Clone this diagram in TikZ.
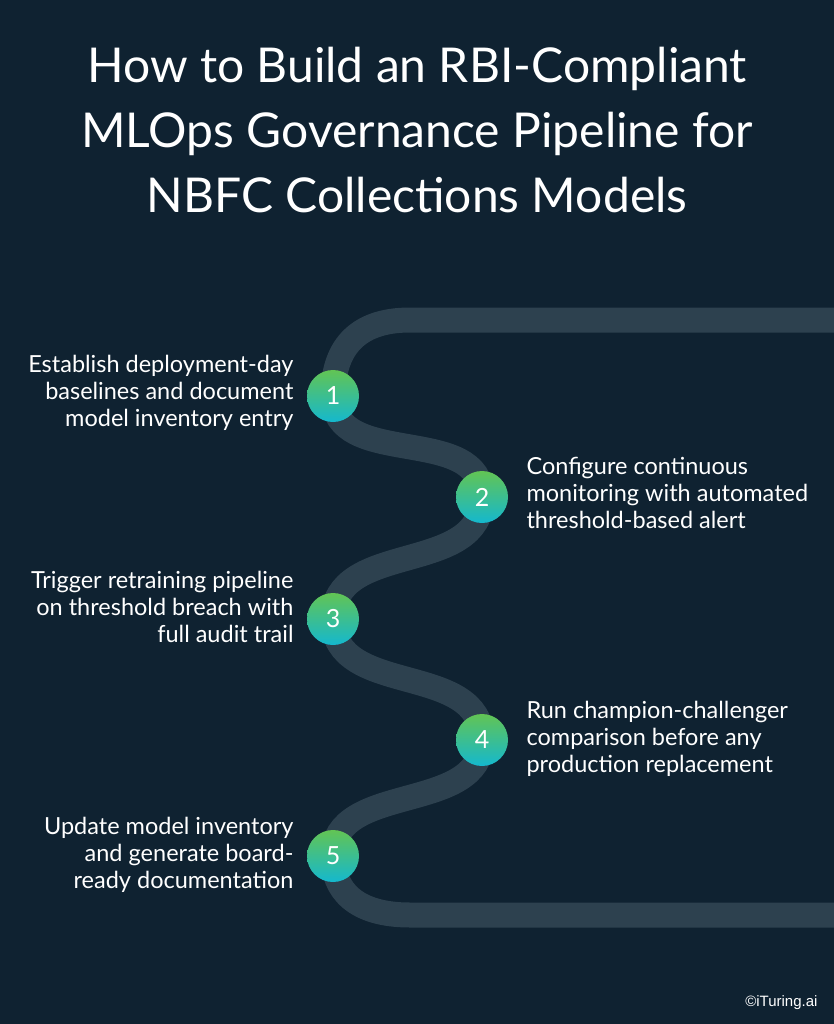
\documentclass[tikz,border=0pt]{standalone}
\usepackage{fontspec}
\setmainfont{Lato}
\newfontfamily\creditfont{Liberation Sans}
\definecolor{bgnavy}{RGB}{15,34,49}
\definecolor{roadgray}{RGB}{45,65,79}
\definecolor{stepgreen}{RGB}{98,196,84}
\definecolor{stepteal}{RGB}{20,184,206}
\usetikzlibrary{backgrounds}

\begin{document}
\begin{tikzpicture}[x=1pt,y=-1pt,
  stepdot/.style={circle,minimum size=52pt,inner sep=0pt,top color=stepgreen,
    bottom color=stepteal,text=white,font=\fontsize{25}{25}\selectfont},
  lefttxt/.style={anchor=east,align=right,text=white,
    font=\fontsize{23.5}{27}\selectfont},
  righttxt/.style={anchor=west,align=left,text=white,
    font=\fontsize{23.5}{27}\selectfont},
  road/.style={draw=roadgray,line width=25pt}]
  \useasboundingbox (0,0) rectangle (834,1024);
  % Title
  \node[text=white,align=center,font=\fontsize{48}{65}\selectfont] (title) at (417,130)
    {How to Build an RBI-Compliant\\MLOps Governance Pipeline for\\NBFC Collections Models};
  % Steps
  \node[stepdot] (s1) at (333,396) {1};
  \node[stepdot] (s2) at (482,497) {2};
  \node[stepdot] (s3) at (333,619) {3};
  \node[stepdot] (s4) at (482,740) {4};
  \node[stepdot] (s5) at (333,856) {5};
  % Labels
  \node[lefttxt] (t1) at (297,393)
    {Establish deployment-day\\baselines and document\\model inventory entry};
  \node[righttxt] (t2) at (523,493)
    {Configure continuous\\monitoring with automated\\threshold-based alert};
  \node[lefttxt] (t3) at (297,607)
    {Trigger retraining pipeline\\on threshold breach with\\full audit trail};
  \node[righttxt] (t4) at (523,739)
    {Run champion-challenger\\comparison before any\\production replacement};
  \node[lefttxt] (t5) at (297,855)
    {Update model inventory\\and generate board-\\ready documentation};
  % Road ends
  \coordinate (rtop) at (834,320);
  \coordinate (rbot) at (834,915);
  % Background and road
  \begin{pgfonlayer}{background}
    \fill[bgnavy] (0,0) rectangle (834,1024);
    \draw[road] (rtop) -- (410,320) .. controls (355,320) and (333,350) .. (s1.center);
    \draw[road] (s1.center) .. controls +(0,75) and +(0,-75) .. (s2.center);
    \draw[road] (s2.center) .. controls +(0,80) and +(0,-80) .. (s3.center);
    \draw[road] (s3.center) .. controls +(0,80) and +(0,-80) .. (s4.center);
    \draw[road] (s4.center) .. controls +(0,75) and +(0,-75) .. (s5.center);
    \draw[road] (s5.center) .. controls (333,890) and (355,915) .. (410,915) -- (rbot);
  \end{pgfonlayer}
  % Credit
  \node[anchor=east,text=white,font=\creditfont\fontsize{15}{15}\selectfont] (credit)
    at (821,1003) {©iTuring.ai};
\end{tikzpicture}
\end{document}
